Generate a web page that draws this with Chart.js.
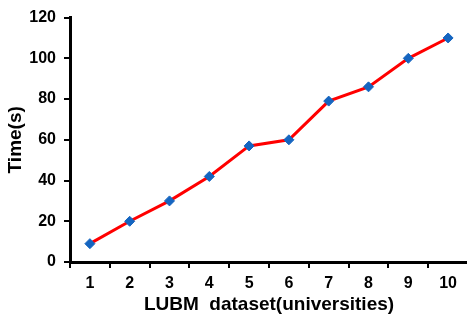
<!DOCTYPE html>
<html>
<head>
<meta charset="utf-8">
<script src="https://cdn.jsdelivr.net/npm/chart.js@4"></script>
<style>
	html, body { margin: 0; padding: 0; background: #fff; overflow: hidden; }
	#wrap { width: 474px; height: 316px; }
</style>
</head>
<body>
<div id="wrap"><canvas id="chart"></canvas></div>
<script>
const categories = ['1', '2', '3', '4', '5', '6', '7', '8', '9', '10']
const timeValues = [9, 20, 30, 42, 57, 60, 79, 86, 100, 110]
const yTicks = [0, 20, 40, 60, 80, 100, 120]

const fontFamily = '"Liberation Sans", Arial, sans-serif'

function drawChart() {
	const ctx = document.getElementById('chart')
	new Chart(ctx, {
		type: 'line',
		data: {
			labels: categories,
			datasets: [
				{
					data: timeValues,
					borderColor: '#ff0000',
					borderWidth: 3,
					pointStyle: 'rectRot',
					pointRadius: 5,
					pointBackgroundColor: '#1565c0',
					pointBorderColor: '#1565c0',
					pointBorderWidth: 1,
					tension: 0,
				},
			],
		},
		options: {
			responsive: true,
			maintainAspectRatio: false,
			animation: false,
			layout: { padding: { top: 12, right: 0, left: 0, bottom: 0 } },
			plugins: {
				legend: { display: false },
				tooltip: { enabled: false },
			},
			scales: {
				x: {
					offset: true,
					grid: {
						offset: true,
						drawOnChartArea: false,
						drawTicks: true,
						tickLength: 6,
						color: '#000',
						lineWidth: 2,
					},
					border: { color: '#000', width: 3 },
					ticks: {
						color: '#000',
						font: { family: fontFamily, size: 16, weight: 'bold' },
						padding: 6,
						maxRotation: 0,
					},
					title: {
						display: true,
						text: 'LUBM  dataset(universities)',
						color: '#000',
						font: { family: fontFamily, size: 19, weight: 'bold' },
						padding: { top: 2, bottom: 0 },
					},
					afterFit: scale => { scale.height = 54 },
				},
				y: {
					min: 0,
					max: 120,
					afterBuildTicks: scale => {
						scale.ticks = yTicks.map(v => ({ value: v }))
					},
					grid: {
						drawOnChartArea: false,
						drawTicks: true,
						tickLength: 6,
						color: '#000',
						lineWidth: 2,
					},
					border: { color: '#000', width: 3 },
					ticks: {
						color: '#000',
						font: { family: fontFamily, size: 16, weight: 'bold' },
						padding: 8,
					},
					title: {
						display: true,
						text: 'Time(s)',
						color: '#000',
						font: { family: fontFamily, size: 19, weight: 'bold' },
						padding: { top: 4, bottom: 2 },
					},
					afterFit: scale => { scale.width = 70 },
				},
			},
		},
	})
}
drawChart()
</script>
</body>
</html>
